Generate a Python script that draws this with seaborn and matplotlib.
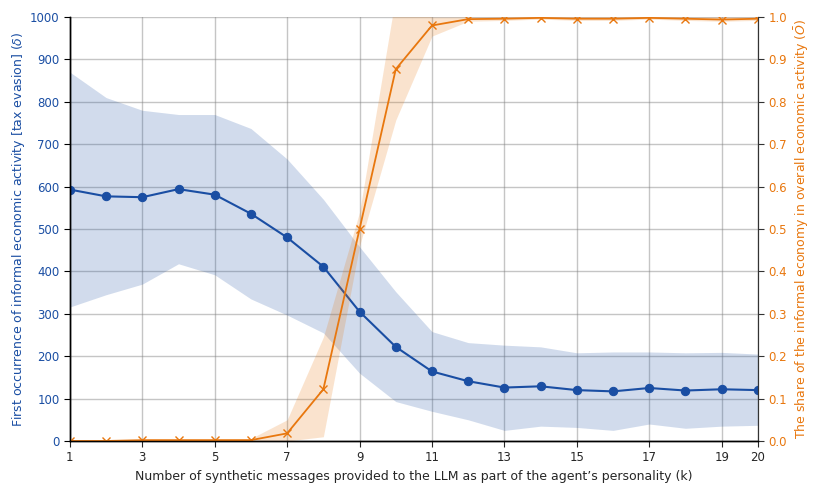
import matplotlib
matplotlib.use("Agg")
import matplotlib.pyplot as plt
import numpy as np
import pandas as pd
import seaborn as sns

# k values
k = list(range(1, 21))

# first occurrence of informal activity (delta): mean and band
delta_mean = [593, 577, 575, 594, 581, 536, 480, 411, 305, 222,
              164, 141, 126, 129, 120, 117, 125, 119, 122, 120]
delta_upper = [870, 810, 780, 770, 770, 737, 665, 570, 458, 352,
               258, 232, 226, 222, 208, 210, 210, 208, 209, 205]
delta_lower = [316, 345, 370, 418, 392, 335, 297, 255, 160, 93,
               70, 50, 25, 35, 32, 25, 40, 30, 35, 37]

# share of informal economy (O bar): mean and band
share_mean = [0.0, 0.0, 0.002, 0.002, 0.002, 0.002, 0.018, 0.122, 0.5, 0.877,
              0.98, 0.995, 0.996, 0.998, 0.996, 0.996, 0.998, 0.996, 0.994, 0.996]
share_upper = [0.0, 0.0, 0.004, 0.004, 0.004, 0.006, 0.05, 0.245, 0.54, 1.05,
               1.0, 1.0, 1.0, 1.0, 1.0, 1.0, 1.0, 1.0, 1.0, 1.0]
share_lower = [0.0, 0.0, 0.0, 0.0, 0.0, 0.0, 0.0, 0.01, 0.46, 0.757,
               0.955, 0.99, 0.992, 0.995, 0.992, 0.992, 0.995, 0.992, 0.99, 0.992]

BLUE = "#1a4ea3"
ORANGE = "#e8770e"

df = pd.DataFrame({"k": k, "delta": delta_mean, "share": share_mean})

sns.set_style("white")
plt.rcParams.update({"font.family": ["DejaVu Sans"], "font.size": 9,
                     "xtick.labelsize": 8.5, "ytick.labelsize": 8.5})

fig = plt.figure(figsize=(8.22, 4.93), dpi=100)
ax = fig.add_axes([0.085, 0.1055, 0.837, 0.86])
ax2 = ax.twinx()

ax.fill_between(k, delta_lower, delta_upper, color=BLUE, alpha=0.2, linewidth=0)
sns.lineplot(data=df, x="k", y="delta", ax=ax, color=BLUE, marker="o",
             markersize=6, markeredgecolor=BLUE, linewidth=1.5)

ax2.fill_between(k, share_lower, share_upper, color=ORANGE, alpha=0.2, linewidth=0)
sns.lineplot(data=df, x="k", y="share", ax=ax2, color=ORANGE, marker="x",
             markersize=6, markeredgecolor=ORANGE, markeredgewidth=1.0, linewidth=1.3)

ax.set_xlim(1, 20)
ax.set_ylim(0, 1000)
ax2.set_ylim(0, 1.0)
ax.set_xticks([1, 3, 5, 7, 9, 11, 13, 15, 17, 19, 20])
ax.set_yticks(np.arange(0, 1001, 100))
ax2.set_yticks(np.arange(0, 1.01, 0.1))
ax2.set_yticklabels([f"{v:.1f}" for v in np.arange(0, 1.01, 0.1)])

ax.grid(True, color="gray", alpha=0.45, linewidth=1)
ax.set_axisbelow(True)

ax.set_xlabel("Number of synthetic messages provided to the LLM as part of the agent\u2019s personality (k)")
ax.set_ylabel(r"First occurrence of informal economic activity [tax evasion] ($\delta$)",
              color=BLUE, labelpad=2)
ax2.set_ylabel(r"The share of the informal economy in overall economic activity ($\bar{O}$)",
               color=ORANGE)

ax.tick_params(axis="y", colors="black", labelcolor=BLUE, left=True, length=4)
ax.tick_params(axis="x", bottom=True, length=4)
ax2.tick_params(axis="y", colors="#333333", labelcolor=ORANGE, right=True, length=4)

for a in (ax, ax2):
    a.spines["top"].set_visible(False)
    for s in ("left", "bottom"):
        a.spines[s].set_color("black")
        a.spines[s].set_linewidth(1.0)
    a.spines["right"].set_color("#333333")

fig.savefig("out.png", dpi=100)
